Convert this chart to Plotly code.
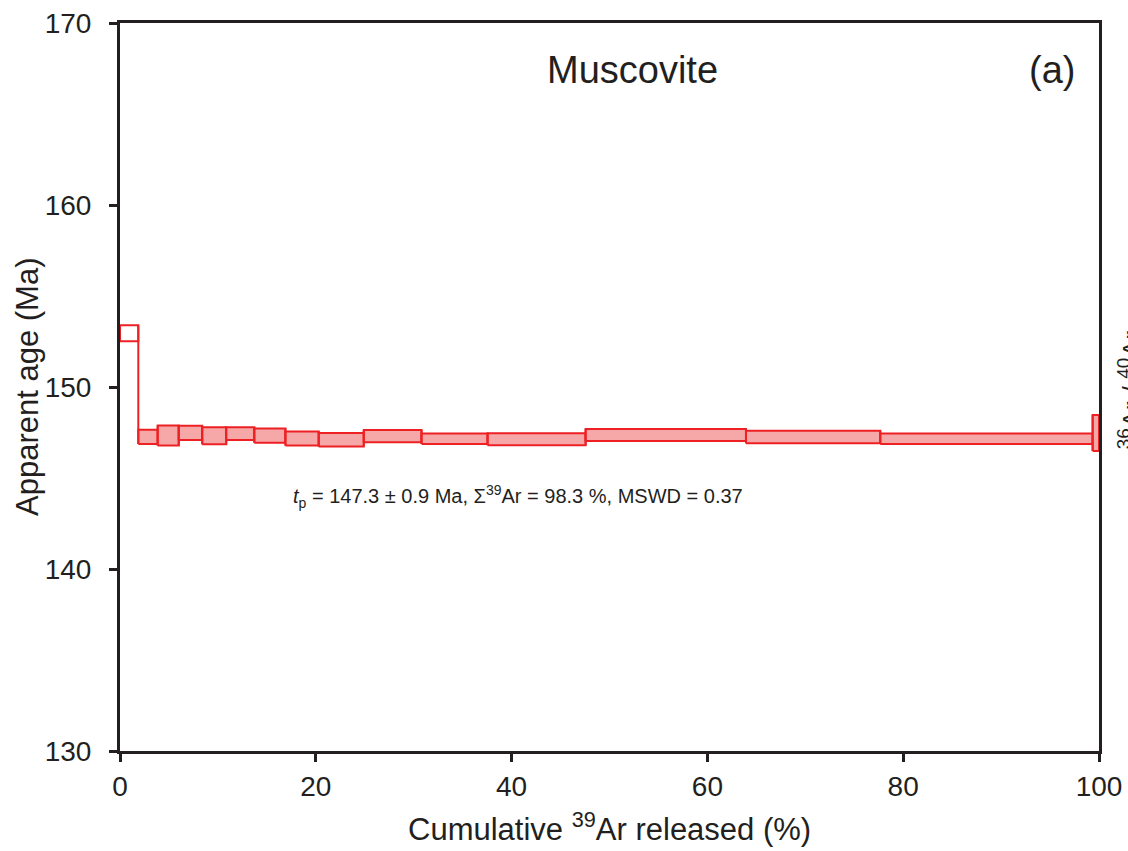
import plotly.graph_objects as go

# Step heating data (cumulative 39Ar % boundaries, apparent age and half-width error)
cum_start = [0.0, 1.87, 3.85, 6.0, 8.4, 10.85, 13.72, 16.9, 20.3, 24.9, 30.8, 37.55, 47.56, 63.94, 77.66, 99.35]
cum_end   = [1.87, 3.85, 6.0, 8.4, 10.85, 13.72, 16.9, 20.3, 24.9, 30.8, 37.55, 47.56, 63.94, 77.66, 99.35, 100.0]
age       = [152.95, 147.26, 147.33, 147.48, 147.32, 147.44, 147.33, 147.17, 147.10, 147.30, 147.16, 147.13, 147.36, 147.25, 147.16, 147.47]
err       = [0.44, 0.39, 0.55, 0.39, 0.47, 0.35, 0.39, 0.39, 0.37, 0.34, 0.29, 0.33, 0.33, 0.34, 0.29, 0.99]
in_plateau = [False] + [True] * 15

x_ticks = [0, 20, 40, 60, 80, 100]
y_ticks = [130, 140, 150, 160, 170]

RED = "rgb(237,32,36)"
PINK = "rgb(246,168,168)"
INK = "#231F20"
FONT = "Liberation Sans, Arial, sans-serif"

fig = go.Figure()

n = len(age)
for i in range(n):
    lo = age[i] - err[i]
    hi = age[i] + err[i]
    fig.add_trace(go.Scatter(
        x=[cum_start[i], cum_end[i], cum_end[i], cum_start[i], cum_start[i]],
        y=[lo, lo, hi, hi, lo],
        mode="lines",
        fill="toself" if in_plateau[i] else "none",
        fillcolor=PINK,
        line=dict(color=RED, width=2),
        showlegend=False, hoverinfo="skip",
    ))

# vertical connectors between adjacent steps
for i in range(n - 1):
    lo = min(age[i] - err[i], age[i + 1] - err[i + 1])
    hi = max(age[i] + err[i], age[i + 1] + err[i + 1])
    fig.add_trace(go.Scatter(
        x=[cum_end[i], cum_end[i]], y=[lo, hi], mode="lines",
        line=dict(color=RED, width=2), showlegend=False, hoverinfo="skip",
    ))

axis_common = dict(
    showline=True, linecolor=INK, linewidth=3, mirror=True,
    ticks="outside", ticklen=8, tickwidth=3, tickcolor=INK,
    showgrid=False, zeroline=False, automargin=False,
    tickfont=dict(family=FONT, size=28, color=INK),
)

fig.update_xaxes(range=[0, 100], tickvals=x_ticks, ticktext=[str(v) for v in x_ticks],
                 ticklabelstandoff=0, **axis_common)
fig.update_yaxes(range=[130, 170], tickvals=y_ticks, ticktext=[str(v) for v in y_ticks],
                 ticklabelstandoff=12, **axis_common)

annotations = [
    dict(text="Apparent age (Ma)", xref="paper", yref="paper", x=-0.095, y=0.5,
         textangle=-90, showarrow=False, xanchor="center", yanchor="middle",
         font=dict(family=FONT, size=31, color=INK)),
    dict(text="Cumulative <sup>39</sup>Ar released (%)", xref="paper", yref="paper",
         x=0.5, y=-0.104, showarrow=False, xanchor="center", yanchor="middle",
         font=dict(family=FONT, size=31, color=INK)),
    dict(text="Muscovite", xref="x", yref="y", x=52.3, y=167.4, showarrow=False,
         xanchor="center", yanchor="middle", font=dict(family=FONT, size=38, color=INK)),
    dict(text="(a)", xref="x", yref="y", x=95.2, y=167.4, showarrow=False,
         xanchor="center", yanchor="middle", font=dict(family=FONT, size=38, color=INK)),
    dict(text="<i>t</i><sub>p</sub> = 147.3 ± 0.9 Ma, Σ<sup>39</sup>Ar = 98.3 %, MSWD = 0.37",
         xref="x", yref="y", x=40.7, y=143.96, showarrow=False,
         xanchor="center", yanchor="middle", font=dict(family=FONT, size=20, color=INK)),
    dict(text="<sup>36</sup>Ar / <sup>40</sup>Ar", xref="paper", yref="paper",
         x=1.032, y=0.496, textangle=-90, showarrow=False, xanchor="center", yanchor="middle",
         font=dict(family=FONT, size=27, color=INK)),
]

fig.update_layout(
    width=1128, height=851,
    margin=dict(l=120, r=29, t=23, b=100, autoexpand=False),
    paper_bgcolor="white", plot_bgcolor="white",
    annotations=annotations,
    showlegend=False,
)

fig.write_html("out.html")
